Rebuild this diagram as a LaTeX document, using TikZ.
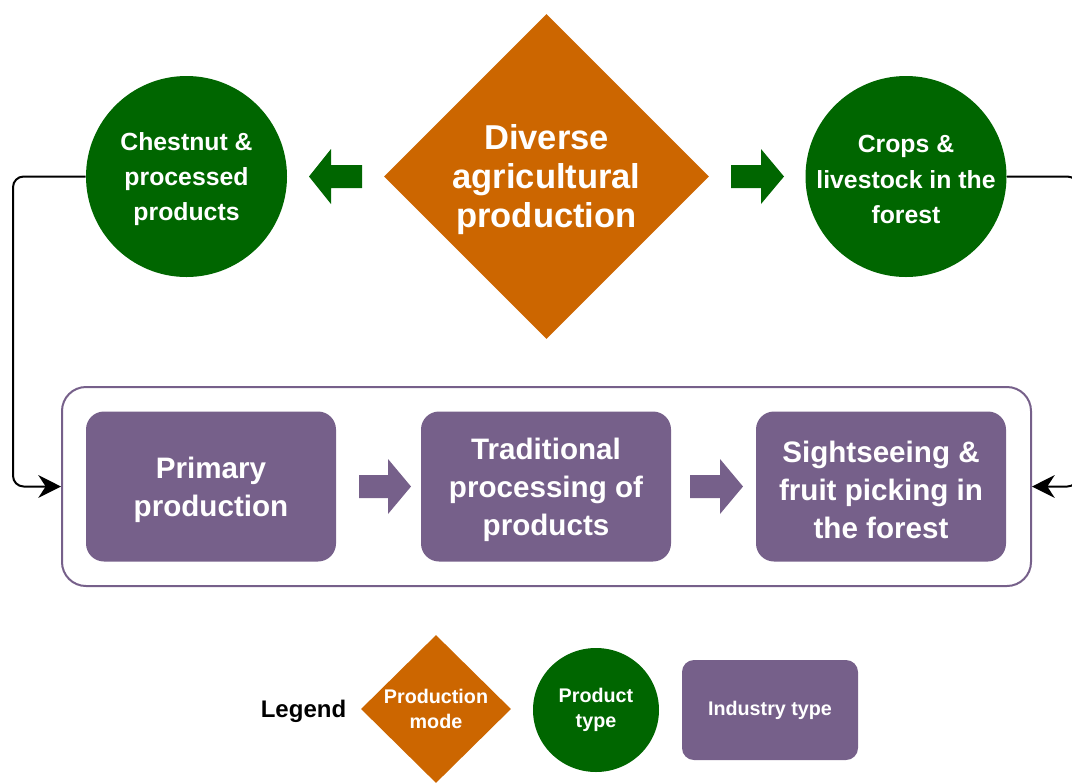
\documentclass[tikz,border=0pt]{standalone}
\usepackage{fontspec}
\setmainfont{Liberation Sans}
\usetikzlibrary{shapes.geometric,arrows.meta}
\definecolor{prodorange}{HTML}{CC6600}
\definecolor{prodgreen}{HTML}{006600}
\definecolor{indpurple}{HTML}{76608A}
\tikzset{
  modebox/.style={shape=diamond,fill=prodorange,inner sep=0pt,minimum width=243.75pt,minimum height=243.75pt},
  modetext/.style={text=white,align=center,yshift=-2.25pt,font=\bfseries\fontsize{25.9}{29.3}\selectfont},
  prodcircle/.style={circle,fill=prodgreen,inner sep=0pt,minimum size=150.75pt},
  prodtext/.style={text=white,align=center,yshift=-2.25pt,font=\bfseries\fontsize{18.6}{26.3}\selectfont},
  indbox/.style={rectangle,rounded corners=13.5pt,fill=indpurple,inner sep=0pt,minimum width=187.5pt,minimum height=112.5pt},
  indtext/.style={text=white,align=center,yshift=-2.25pt,font=\bfseries\fontsize{22.2}{28.5}\selectfont},
  stagebox/.style={rectangle,rounded corners=18pt,draw=indpurple,line width=1.5pt,minimum width=726.75pt,minimum height=149.25pt},
  conn/.style={draw=black,line width=1.5pt,rounded corners=8pt,-{Stealth[length=17pt,width=17pt,inset=5.5pt]}},
  legtext/.style={text=white,align=center,font=\bfseries\fontsize{14.8}{18.8}\selectfont},
}
\begin{document}
\begin{tikzpicture}[x=0.75pt,y=-0.75pt]
\useasboundingbox (0,0) rectangle (1072,783);
% top row
\node[modebox,label={[modetext]center:Diverse\\agricultural\\production}] (mode) at (546.5,176.5) {};
\node[prodcircle,label={[prodtext]center:Chestnut \&\\processed\\products}] (chest) at (186.5,176.5) {};
\node[prodcircle,label={[prodtext]center:Crops \&\\livestock in the\\forest}] (crops) at (906,176.5) {};
% green block arrows
\fill[prodgreen] (362,165) -- (331,165) -- (331,149) -- (309,176.5) -- (331,204) -- (331,188) -- (362,188) -- cycle;
\fill[prodgreen] (731,165) -- (761,165) -- (761,149) -- (784,176.5) -- (761,204) -- (761,188) -- (731,188) -- cycle;
% industry stage
\node[stagebox] (stage) at (546.5,486.5) {};
\node[indbox,label={[indtext]center:Primary\\production}] (primary) at (211,486.5) {};
\node[indbox,label={[indtext]center:Traditional\\processing of\\products}] (trad) at (546,486.5) {};
\node[indbox,label={[indtext]center:Sightseeing \&\\fruit picking in\\the forest}] (sight) at (881,486.5) {};
% purple block arrows
\fill[indpurple] (359,475) -- (388,475) -- (388,459) -- (411,486.5) -- (388,514) -- (388,498) -- (359,498) -- cycle;
\fill[indpurple] (690,475) -- (720,475) -- (720,459) -- (743,486.5) -- (720,514) -- (720,498) -- (690,498) -- cycle;
% connectors
\coordinate (lbend) at (13,176.5);
\coordinate (rbend) at (1078,176.5);
\draw[conn] (chest.west) -- (lbend) |- (stage.west);
\draw[conn] (crops.east) -- (rbend) |- (stage.east);
% legend
\node[font=\bfseries\fontsize{18}{22}\selectfont] (legend) at (303.5,711) {Legend};
\node[shape=diamond,fill=prodorange,inner sep=0pt,minimum width=112.5pt,minimum height=111pt] (legmode) at (436,709) {};
\node[legtext] at (legmode.center) {Production\\mode};
\node[ellipse,fill=prodgreen,inner sep=0pt,minimum width=94.5pt,minimum height=93pt] (legprod) at (596,710) {};
\node[legtext] at (legprod.center) {Product\\type};
\node[rectangle,rounded corners=9pt,fill=indpurple,inner sep=0pt,minimum width=132pt,minimum height=75pt,legtext] (legind) at (770,710) {Industry type};
\end{tikzpicture}
\end{document}
